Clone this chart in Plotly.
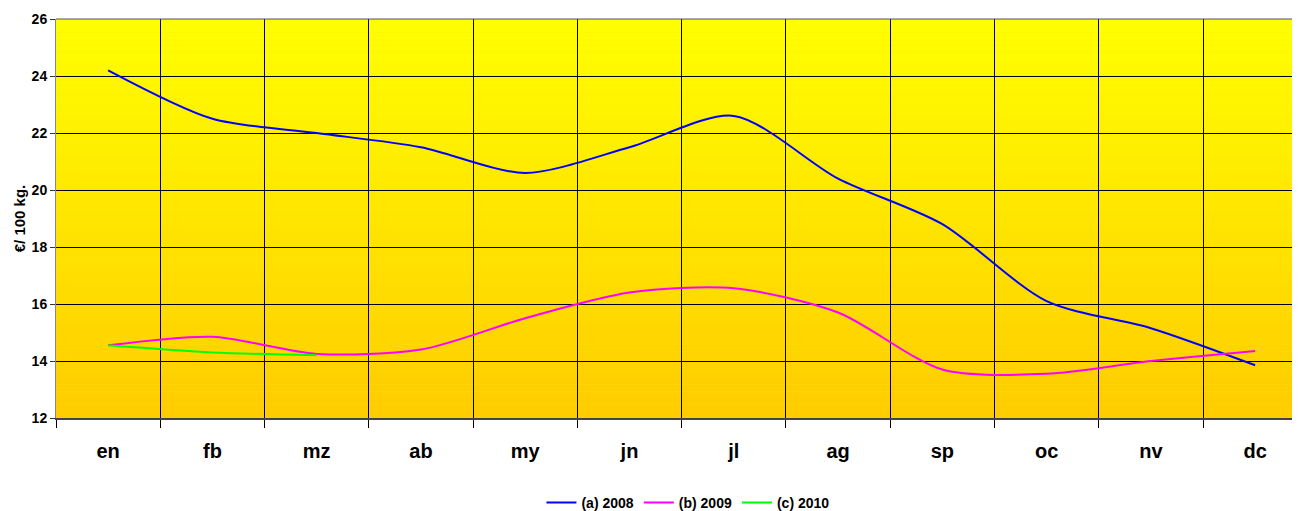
import plotly.graph_objects as go

months = ["en", "fb", "mz", "ab", "my", "jn", "jl", "ag", "sp", "oc", "nv", "dc"]
s2008 = [24.2, 22.5, 22.0, 21.5, 20.6, 21.5, 22.6, 20.4, 18.8, 16.1, 15.15, 13.85]
s2009 = [14.55, 14.85, 14.25, 14.4, 15.5, 16.4, 16.55, 15.7, 13.7, 13.55, 14.0, 14.35]
s2010 = [14.55, 14.3, 14.2]
months2010 = months[:3]

font = "Arial, Liberation Sans, sans-serif"

fig = go.Figure()
fig.add_trace(go.Scatter(x=months, y=s2008, name="(a) 2008", mode="lines",
                         line=dict(color="#0000FF", width=2, shape="spline", smoothing=0.8)))
fig.add_trace(go.Scatter(x=months, y=s2009, name="(b) 2009", mode="lines",
                         line=dict(color="#FF00FF", width=2, shape="spline", smoothing=0.8)))
fig.add_trace(go.Scatter(x=months2010, y=s2010, name="(c) 2010", mode="lines",
                         line=dict(color="#00FF00", width=2, shape="spline", smoothing=0.8)))

# gradient background bands
n = 60
top = (255, 255, 0)
bot = (255, 204, 0)
shapes = []
for i in range(n):
    t = i / (n - 1)
    c = tuple(round(top[k] + (bot[k] - top[k]) * t) for k in range(3))
    shapes.append(dict(type="rect", xref="x domain", yref="y domain",
                       x0=0, x1=1, y0=1 - (i + 1) / n, y1=1 - i / n,
                       fillcolor="rgb(%d,%d,%d)" % c, line=dict(width=0), layer="below"))

fig.update_layout(
    width=1292, height=503,
    margin=dict(l=48, r=0, t=11, b=93, autoexpand=False),
    paper_bgcolor="white", plot_bgcolor="#FFE600",
    shapes=shapes,
    font=dict(family=font, color="black"),
    showlegend=True,
    legend=dict(orientation="h", x=0.508, xanchor="center", y=-0.213, yanchor="middle",
                font=dict(family=font, size=14, color="black", weight="bold"),
                itemwidth=30, tracegroupgap=0),
)
fig.update_xaxes(type="category", tickson="boundaries", ticks="outside", ticklen=8,
                 tickcolor="black", showgrid=True, gridcolor="black", gridwidth=1,
                 showline=True, linecolor="#444444", linewidth=2, mirror=False,
                 range=[-0.5, 11.43], automargin=False, ticklabelstandoff=14,
                 tickfont=dict(family=font, size=20, color="black", weight="bold"))
fig.update_yaxes(range=[12, 26], dtick=2, ticks="outside", ticklen=5, tickcolor="#333333",
                 showgrid=True, gridcolor="black", gridwidth=1,
                 showline=True, linecolor="#888888", linewidth=1,
                 zeroline=False, automargin=False,
                 tickfont=dict(family=font, size=14, color="black", weight="bold"),
                 title=dict(text="<b>€/ 100 kg.</b>", font=dict(family=font, size=15), standoff=2))
# top border line
fig.add_shape(type="line", xref="x domain", yref="y domain", x0=0, x1=1, y0=1, y1=1,
              line=dict(color="#555555", width=1))
fig.write_html("out.html")
